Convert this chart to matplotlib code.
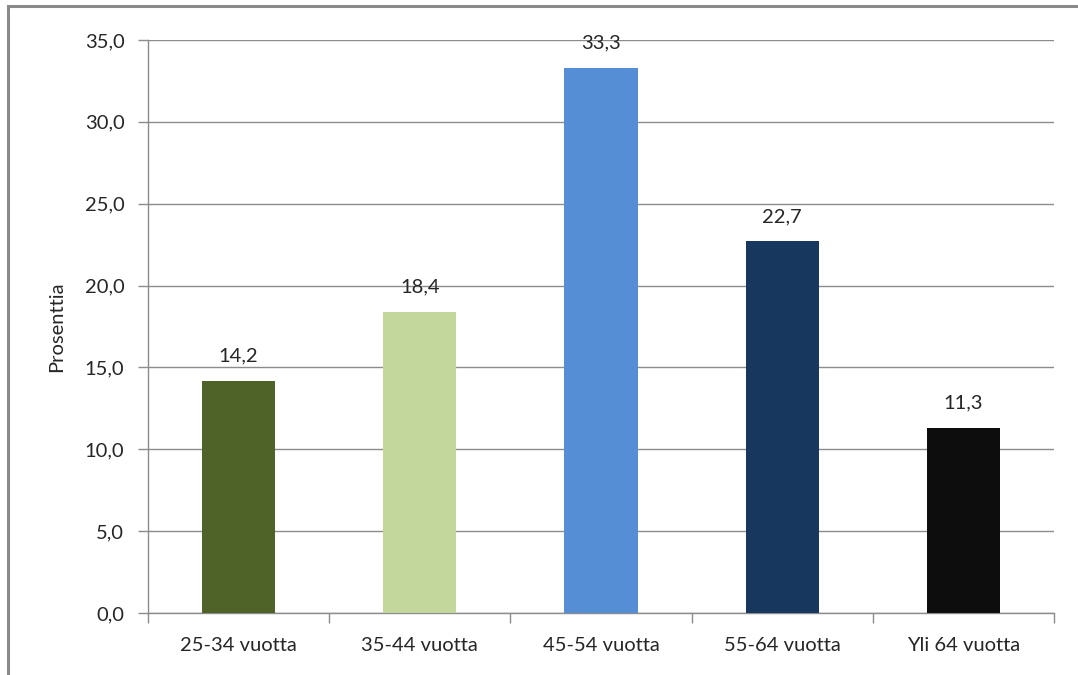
import matplotlib.pyplot as plt
from matplotlib.patches import Rectangle
from matplotlib.ticker import MultipleLocator, FuncFormatter

categories = ['25-34 vuotta', '35-44 vuotta', '45-54 vuotta', '55-64 vuotta', 'Yli 64 vuotta']
values = [14.2, 18.4, 33.3, 22.7, 11.3]
colors = ['#4F6228', '#C3D69B', '#558ED5', '#17375E', '#0D0D0D']

plt.rcParams['font.family'] = ['Lato', 'DejaVu Sans']
grey = '#8c8c8c'
txt = '#262626'
fs = 14.5

fig = plt.figure(figsize=(10.78, 6.75), dpi=100)
# outer frame of the chart area
fig.patches.append(Rectangle((8 / 1078, -0.1), 1.2, (1 - 6 / 675) + 0.1,
                             transform=fig.transFigure, fill=False,
                             edgecolor='#8a8a8a', linewidth=2.2))

ax = fig.add_axes([148 / 1078, 1 - 613 / 675, (1054 - 148) / 1078, (613 - 40) / 675])
x = range(len(categories))
ax.bar(x, values, width=0.403, color=colors, zorder=3)
for i, v in enumerate(values):
    ax.text(i, v + 1.0, f'{v:.1f}'.replace('.', ','), ha='center', va='bottom',
            fontsize=fs, color=txt)

ax.set_xlim(-0.5, len(categories) - 0.5)
ax.set_ylim(0, 35)
ax.yaxis.set_major_locator(MultipleLocator(5))
ax.yaxis.set_major_formatter(FuncFormatter(lambda v, p: f'{v:.1f}'.replace('.', ',')))
ax.grid(axis='y', color=grey, linewidth=1.0, zorder=0)

ax.set_xticks(list(x))
ax.set_xticklabels(categories, fontsize=fs, color=txt)
ax.set_xticks([i - 0.5 for i in range(len(categories) + 1)], minor=True)
ax.tick_params(axis='x', which='major', length=0, pad=17)
ax.tick_params(axis='x', which='minor', length=7, color=grey, width=1)
ax.tick_params(axis='y', length=7, color=grey, width=1, labelsize=fs,
               labelcolor=txt, pad=10)

for s in ['top', 'right']:
    ax.spines[s].set_visible(False)
for s in ['left', 'bottom']:
    ax.spines[s].set_color(grey)
    ax.spines[s].set_linewidth(1.0)

ax.set_ylabel('Prosenttia', fontsize=fs, color=txt, labelpad=14)

fig.savefig('out.png', dpi=100)
